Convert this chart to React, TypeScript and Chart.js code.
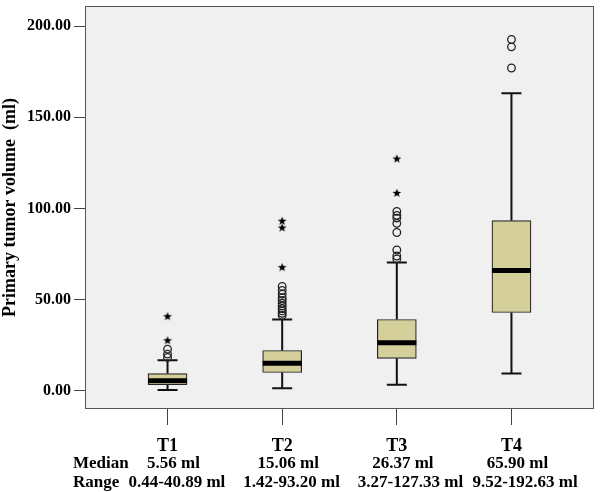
import React, { useEffect, useRef } from "react";
import { Chart, registerables } from "chart.js";

Chart.register(...registerables);

const categories = ["T1", "T2", "T3", "T4"];
const medians = [5.56, 15.06, 26.37, 65.9];
const q1 = [3.3, 10.0, 17.8, 42.9];
const q3 = [9.4, 22.1, 39.1, 93.3];
const whiskerLow = [0.44, 1.42, 3.27, 9.52];
const whiskerHigh = [16.7, 39.1, 70.3, 163.2];
const circleOutliers = [
  [18.3, 20.1, 22.8],
  [41.3, 42.5, 43.8, 45.0, 46.5, 48.0, 49.5, 51.0, 53.0, 55.0, 57.2],
  [72.3, 73.9, 77.2, 86.8, 91.8, 94.7, 96.2, 98.4],
  [177.0, 188.6, 192.63],
];
const starOutliers = [
  [27.7, 40.89],
  [67.8, 89.5, 93.2],
  [108.5, 127.33],
  [],
];
const medianLabels = ["5.56 ml", "15.06 ml", "26.37 ml", "65.90 ml"];
const rangeLabels = ["0.44-40.89 ml", "1.42-93.20 ml", "3.27-127.33 ml", "9.52-192.63 ml"];
const yTicks = [0, 50, 100, 150, 200];

const FONT = "'Liberation Serif', 'Times New Roman', serif";

function makeStar(): HTMLCanvasElement {
  const c = document.createElement("canvas");
  c.width = 10;
  c.height = 10;
  const ctx = c.getContext("2d")!;
  ctx.fillStyle = "#000";
  ctx.beginPath();
  for (let i = 0; i < 10; i++) {
    const r = i % 2 === 0 ? 4.6 : 1.9;
    const a = -Math.PI / 2 + (i * Math.PI) / 5;
    const x = 5 + r * Math.cos(a);
    const y = 5.3 + r * Math.sin(a);
    if (i === 0) ctx.moveTo(x, y);
    else ctx.lineTo(x, y);
  }
  ctx.closePath();
  ctx.fill();
  return c;
}

export default function App() {
  const ref = useRef<HTMLCanvasElement>(null);
  useEffect(() => {
    const star = makeStar();
    const boxPlugin = {
      id: "boxParts",
      beforeDraw(chart: any) {
        const { ctx, chartArea: a } = chart;
        ctx.save();
        ctx.fillStyle = "#f0f0f0";
        ctx.fillRect(a.left, a.top, a.right - a.left, a.bottom - a.top);
        ctx.restore();
      },
      beforeDatasetsDraw(chart: any) {
        const { ctx } = chart;
        const xs = chart.scales.x;
        const ys = chart.scales.y;
        ctx.save();
        ctx.strokeStyle = "#111";
        ctx.lineWidth = 2;
        categories.forEach((_, i) => {
          const x = xs.getPixelForValue(i + 1);
          const yHi = ys.getPixelForValue(whiskerHigh[i]);
          const yLo = ys.getPixelForValue(whiskerLow[i]);
          const yQ3 = ys.getPixelForValue(q3[i]);
          const yQ1 = ys.getPixelForValue(q1[i]);
          ctx.beginPath();
          ctx.moveTo(x, yHi);
          ctx.lineTo(x, yQ3);
          ctx.moveTo(x, yQ1);
          ctx.lineTo(x, yLo);
          ctx.moveTo(x - 10, yHi);
          ctx.lineTo(x + 10, yHi);
          ctx.moveTo(x - 10, yLo);
          ctx.lineTo(x + 10, yLo);
          ctx.stroke();
        });
        ctx.restore();
      },
      afterDatasetsDraw(chart: any) {
        const { ctx, chartArea: a } = chart;
        const xs = chart.scales.x;
        const ys = chart.scales.y;
        ctx.save();
        ctx.strokeStyle = "#000";
        ctx.lineWidth = 5;
        categories.forEach((_, i) => {
          const x = xs.getPixelForValue(i + 1);
          const y = ys.getPixelForValue(medians[i]);
          ctx.beginPath();
          ctx.moveTo(x - 19.5, y);
          ctx.lineTo(x + 19.5, y);
          ctx.stroke();
        });
        ctx.strokeStyle = "#555";
        ctx.lineWidth = 1;
        ctx.strokeRect(a.left + 0.5, a.top + 0.5, a.right - a.left - 1, a.bottom - a.top - 1);
        ctx.restore();
      },
      afterDraw(chart: any) {
        const { ctx } = chart;
        const xs = chart.scales.x;
        ctx.save();
        ctx.fillStyle = "#000";
        ctx.font = `bold 17px ${FONT}`;
        ctx.textBaseline = "middle";
        ctx.textAlign = "left";
        ctx.fillText("Median", 73, 464);
        ctx.fillText("Range", 73, 483);
        categories.forEach((_, i) => {
          const x = xs.getPixelForValue(i + 1);
          ctx.textAlign = "center";
          ctx.fillText(medianLabels[i], x + 6, 464);
          ctx.textAlign = "left";
          ctx.fillText(rangeLabels[i], x - 39, 483);
        });
        ctx.restore();
      },
    };

    const datasets: any[] = [
      {
        type: "bar",
        data: categories.map((_, i) => ({ x: i + 1, y: [q1[i], q3[i]] })),
        backgroundColor: "#d4cf9b",
        borderColor: "#222",
        borderWidth: 1.2,
        borderSkipped: false,
        barThickness: 39,
        order: 2,
      },
      {
        type: "scatter",
        data: circleOutliers.flatMap((arr, i) => arr.map((v) => ({ x: i + 1, y: v }))),
        pointStyle: "circle",
        pointRadius: 3.8,
        pointBorderWidth: 1.3,
        pointBorderColor: "#222",
        pointBackgroundColor: "rgba(0,0,0,0)",
        order: 1,
      },
      {
        type: "scatter",
        data: starOutliers.flatMap((arr, i) => arr.map((v) => ({ x: i + 1, y: v }))),
        pointStyle: star,
        pointRadius: 5,
        order: 0,
      },
    ];

    const chart = new Chart(ref.current!, {
      type: "bar",
      data: { datasets },
      options: {
        animation: false,
        responsive: false,
        layout: { padding: { top: 2, right: 3, left: 0, bottom: 0 } },
        plugins: { legend: { display: false }, tooltip: { enabled: false } },
        scales: {
          x: {
            type: "linear",
            offset: false,
            min: 0.28,
            max: 4.72,
            afterBuildTicks: (s: any) => {
              s.ticks = categories.map((_, i) => ({ value: i + 1 }));
            },
            afterFit: (s: any) => {
              s.height = 83;
              s.paddingLeft = 0;
              s.paddingRight = 0;
            },
            ticks: {
              autoSkip: false,
              maxRotation: 0,
              callback: (v: any) => categories[Math.round(v) - 1] ?? "",
              font: { family: FONT, size: 18, weight: "bold" },
              color: "#000",
              padding: 11,
            },
            grid: { offset: false, drawOnChartArea: false, tickLength: 16, color: "#444", tickWidth: 1 },
            border: { display: false },
          },
          y: {
            type: "linear",
            min: -10,
            max: 211,
            afterBuildTicks: (s: any) => {
              s.ticks = yTicks.map((v) => ({ value: v }));
            },
            afterFit: (s: any) => {
              s.width = 85;
              s.paddingTop = 0;
              s.paddingBottom = 0;
            },
            ticks: {
              callback: (v: any) => Number(v).toFixed(2),
              font: { family: FONT, size: 16, weight: "bold" },
              color: "#000",
              padding: 3,
            },
            grid: { drawOnChartArea: false, tickLength: 11, color: "#444", tickWidth: 1 },
            border: { display: false },
            title: {
              display: true,
              text: "Primary tumor volume  (ml)",
              font: { family: FONT, size: 18, weight: "bold" },
              color: "#000",
              padding: 0,
            },
          },
        },
      } as any,
      plugins: [boxPlugin],
    });
    return () => chart.destroy();
  }, []);

  return (
    <div style={{ position: "absolute", left: 0, top: 0, width: 600, height: 492, background: "#fff" }}>
      <canvas ref={ref} width={600} height={492} />
    </div>
  );
}
